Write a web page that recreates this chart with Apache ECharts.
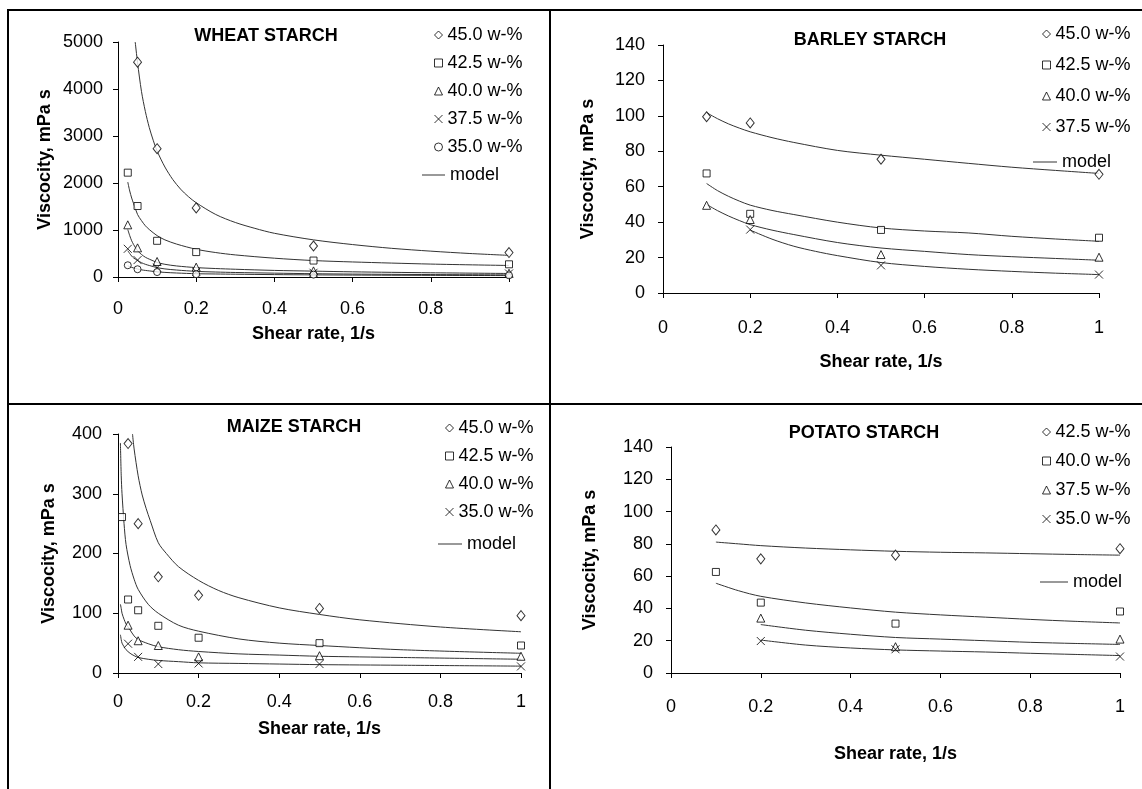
<!DOCTYPE html>
<html>
<head>
<meta charset="utf-8">
<script src="https://cdn.jsdelivr.net/npm/echarts@6/dist/echarts.min.js"></script>
<style>
html,body{margin:0;padding:0;background:#fff;}
#chart{width:1142px;height:789px;}
</style>
</head>
<body>
<div id="chart"></div>
<script>
// ---------------- DATA ----------------
// Wheat starch
const wheatX = [0.025, 0.05, 0.1, 0.2, 0.5, 1];
const wheat450 = [null, 4570, 2730, 1470, 660, 520];
const wheat425 = [2220, 1510, 770, 530, 350, 270];
const wheat400 = [1110, 620, 330, 210, 130, 80];
const wheat375 = [600, 360, 200, 110, 90, 75];
const wheat350 = [250, 165, 105, 60, 50, 35];
const wheatM45X = [0.044, 0.05, 0.06, 0.07, 0.08, 0.09, 0.1, 0.12, 0.14, 0.16, 0.18, 0.2, 0.25, 0.3, 0.35, 0.4, 0.5, 0.6, 0.7, 0.8, 0.9, 1];
const wheatM45 = [5000, 4560, 3950, 3520, 3180, 2910, 2680, 2340, 2075, 1870, 1710, 1580, 1330, 1160, 1035, 930, 790, 690, 610, 550, 500, 460];
const wheatMX = [0.025, 0.03, 0.035, 0.04, 0.05, 0.06, 0.07, 0.08, 0.1, 0.12, 0.15, 0.2, 0.25, 0.3, 0.4, 0.5, 0.6, 0.8, 1];
const wheatM425 = [2020, 1830, 1680, 1560, 1330, 1200, 1090, 1010, 880, 790, 700, 590, 520, 470, 400, 350, 320, 275, 245];
const wheatM40 = [1010, 880, 770, 690, 560, 480, 420, 380, 310, 270, 235, 200, 180, 165, 140, 125, 110, 90, 75];
const wheatM375 = [560, 500, 445, 405, 350, 305, 270, 245, 200, 172, 148, 120, 106, 96, 82, 70, 62, 52, 45];
const wheatM35 = [240, 220, 205, 192, 170, 152, 140, 130, 110, 98, 85, 70, 64, 59, 51, 45, 41, 35, 30];

// Barley starch
const barleyX = [0.1, 0.2, 0.5, 1];
const barley450 = [99.5, 96, 75.5, 67];
const barley425 = [67.5, 44.7, 35.6, 31.2];
const barley400 = [49.5, 41.5, 21.7, 20.2];
const barley375 = [null, 35.8, 15.6, 10.4];
const barleyMX = [0.1, 0.125, 0.15, 0.175, 0.2, 0.25, 0.3, 0.4, 0.5, 0.6, 0.7, 0.8, 0.9, 1];
const barleyM450 = [101.8, 98.4, 95.5, 93.1, 91, 87.7, 85, 80.5, 77.8, 75.5, 73.2, 71, 69.2, 67.5];
const barleyM425 = [61.8, 57.8, 54.6, 51.9, 49.6, 46.6, 44.3, 40, 36.7, 35, 33.9, 32, 30.5, 29.2];
const barleyM400 = [50, 46.5, 43.5, 40.9, 38.6, 35.5, 33, 28.5, 25.4, 23.5, 21.7, 20.5, 19.5, 18.5];
const barleyM375X = [0.2, 0.25, 0.3, 0.35, 0.4, 0.5, 0.6, 0.7, 0.8, 0.9, 1];
const barleyM375 = [35.5, 30.4, 26.4, 23.5, 21.1, 17.2, 15, 13.4, 12.2, 11.2, 10.4];

// Maize starch
const maizeX = [0.01, 0.025, 0.05, 0.1, 0.2, 0.5, 1];
const maize450 = [null, 384, 250, 161, 130, 108, 96];
const maize425 = [261, 123, 105, 79, 59, 50, 46];
const maize400 = [null, 80, 54, 46, 27, 29, 28];
const maize350 = [null, 49, 27, 15, 16, 15, 11];
const maizeM45X = [0.036, 0.04, 0.05, 0.06, 0.07, 0.08, 0.1, 0.12, 0.15, 0.2, 0.25, 0.3, 0.4, 0.5, 0.6, 0.8, 1];
const maizeM45 = [400, 375, 330, 298, 275, 255, 218, 200, 178, 155, 138, 126, 109, 98, 89, 77, 69];
const maizeMX = [0.006, 0.008, 0.01, 0.015, 0.02, 0.03, 0.04, 0.05, 0.075, 0.1, 0.15, 0.2, 0.3, 0.4, 0.5, 0.7, 1];
const maizeM425 = [385, 330, 300, 250, 215, 180, 157, 140, 115, 100, 80, 70, 57, 50, 46, 39, 33];
const maizeM40 = [115, 108, 100, 90, 82, 72, 62, 56, 49, 44, 39, 36, 32, 30, 28, 26, 23];
const maizeM35 = [64, 56, 50, 44, 39, 33, 29, 26, 23, 21, 19, 17, 16, 15, 14, 13, 11.5];

// Potato starch
const potatoX = [0.1, 0.2, 0.5, 1];
const potato425 = [88.6, 70.7, 73, 77];
const potato400 = [62.6, 43.6, 30.6, 38.1];
const potato375 = [null, 34, 16.3, 21];
const potato350 = [null, 19.8, 14.7, 10.2];
const potatoMX = [0.1, 0.15, 0.2, 0.3, 0.4, 0.5, 0.6, 0.7, 0.8, 0.9, 1];
const potatoM425 = [81.1, 80, 78.9, 77.4, 76.3, 75.4, 74.8, 74.4, 73.9, 73.4, 73];
const potatoM400 = [55.6, 51, 47.5, 43.4, 40.3, 37.7, 36, 34.6, 33.2, 32, 31];
const potatoM3X = [0.2, 0.3, 0.4, 0.5, 0.6, 0.7, 0.8, 0.9, 1];
const potatoM375 = [30, 26.5, 24, 22, 21, 20, 19, 18.3, 17.7];
const potatoM350 = [20.4, 17.3, 15.5, 14.3, 13.6, 13, 12.2, 11.5, 10.8];

const yTicksWheat = {min: 0, max: 5000, interval: 1000};
const yTicksBarley = {min: 0, max: 140, interval: 20};
const yTicksMaize = {min: 0, max: 400, interval: 100};
const yTicksPotato = {min: 0, max: 140, interval: 20};

const titles = ['WHEAT STARCH', 'BARLEY STARCH', 'MAIZE STARCH', 'POTATO STARCH'];
const xName = 'Shear rate, 1/s';
const yName = 'Viscocity, mPa s';

// ---------------- CHART ----------------
const FONT = 'Liberation Sans';
const SYM = {
  diamond: {symbol: 'diamond', size: [8, 10]},
  square: {symbol: 'rect', size: 7},
  triangle: {symbol: 'triangle', size: 8},
  cross: {symbol: 'path://M0,0L10,10M0,10L10,0', size: 8},
  circle: {symbol: 'circle', size: 7}
};

function pts(xs, ys) {
  const out = [];
  xs.forEach((x, i) => { if (ys[i] != null) out.push([x, ys[i]]); });
  return out;
}
function scatter(name, xs, ys, sym, gi) {
  return {
    name: name, type: 'scatter', xAxisIndex: gi, yAxisIndex: gi,
    symbol: SYM[sym].symbol, symbolSize: SYM[sym].size,
    itemStyle: {color: '#fff', borderColor: '#000', borderWidth: 1},
    data: pts(xs, ys), z: 3, silent: true
  };
}
function model(name, xs, ys, gi) {
  return {
    name: name, type: 'line', xAxisIndex: gi, yAxisIndex: gi,
    symbol: 'none', smooth: 0.3, clip: true,
    color: '#333',
    lineStyle: {color: '#333', width: 1},
    data: pts(xs, ys), z: 2, silent: true
  };
}

const grids = [
  {left: 118, top: 42, width: 391, height: 235},
  {left: 663, top: 45, width: 436, height: 248},
  {left: 118, top: 434, width: 403, height: 239},
  {left: 671, top: 447, width: 449, height: 226}
];
const yTicks = [yTicksWheat, yTicksBarley, yTicksMaize, yTicksPotato];
const xLabelMargin = [23, 26, 20, 25];
const yLabelMargin = [15, 18, 16, 18];
const xNameGap = [48, 60, 47, 72];
const yNameGap = [64, 66, 60, 72];

const txt = {color: '#000', fontFamily: FONT, fontSize: 18};

const xAxes = grids.map((g, i) => ({
  type: 'value', gridIndex: i, min: 0, max: 1, interval: 0.2,
  axisLine: {lineStyle: {color: '#000', width: 1}},
  axisTick: {show: true, length: 5, lineStyle: {color: '#000'}},
  splitLine: {show: false},
  axisLabel: Object.assign({margin: xLabelMargin[i]}, txt),
  name: xName, nameLocation: 'middle', nameGap: xNameGap[i],
  nameTextStyle: Object.assign({}, txt, {fontWeight: 'bold'})
}));
const yAxes = grids.map((g, i) => ({
  type: 'value', gridIndex: i, min: yTicks[i].min, max: yTicks[i].max, interval: yTicks[i].interval,
  axisLine: {show: true, lineStyle: {color: '#000', width: 1}},
  axisTick: {show: true, length: 5, lineStyle: {color: '#000'}},
  splitLine: {show: false},
  axisLabel: Object.assign({margin: yLabelMargin[i], formatter: v => String(v)}, txt),
  name: yName, nameLocation: 'middle', nameGap: yNameGap[i], nameRotate: 90,
  nameTextStyle: Object.assign({}, txt, {fontWeight: 'bold'})
}));

const series = [
  // wheat
  scatter('w|45.0 w-%', wheatX, wheat450, 'diamond', 0),
  scatter('w|42.5 w-%', wheatX, wheat425, 'square', 0),
  scatter('w|40.0 w-%', wheatX, wheat400, 'triangle', 0),
  scatter('w|37.5 w-%', wheatX, wheat375, 'cross', 0),
  scatter('w|35.0 w-%', wheatX, wheat350, 'circle', 0),
  model('w|model', wheatM45X, wheatM45, 0),
  model('w|model', wheatMX, wheatM425, 0),
  model('w|model', wheatMX, wheatM40, 0),
  model('w|model', wheatMX, wheatM375, 0),
  model('w|model', wheatMX, wheatM35, 0),
  // barley
  scatter('b|45.0 w-%', barleyX, barley450, 'diamond', 1),
  scatter('b|42.5 w-%', barleyX, barley425, 'square', 1),
  scatter('b|40.0 w-%', barleyX, barley400, 'triangle', 1),
  scatter('b|37.5 w-%', barleyX, barley375, 'cross', 1),
  model('b|model', barleyMX, barleyM450, 1),
  model('b|model', barleyMX, barleyM425, 1),
  model('b|model', barleyMX, barleyM400, 1),
  model('b|model', barleyM375X, barleyM375, 1),
  // maize
  scatter('m|45.0 w-%', maizeX, maize450, 'diamond', 2),
  scatter('m|42.5 w-%', maizeX, maize425, 'square', 2),
  scatter('m|40.0 w-%', maizeX, maize400, 'triangle', 2),
  scatter('m|35.0 w-%', maizeX, maize350, 'cross', 2),
  model('m|model', maizeM45X, maizeM45, 2),
  model('m|model', maizeMX, maizeM425, 2),
  model('m|model', maizeMX, maizeM40, 2),
  model('m|model', maizeMX, maizeM35, 2),
  // potato
  scatter('p|42.5 w-%', potatoX, potato425, 'diamond', 3),
  scatter('p|40.0 w-%', potatoX, potato400, 'square', 3),
  scatter('p|37.5 w-%', potatoX, potato375, 'triangle', 3),
  scatter('p|35.0 w-%', potatoX, potato350, 'cross', 3),
  model('p|model', potatoMX, potatoM425, 3),
  model('p|model', potatoMX, potatoM400, 3),
  model('p|model', potatoM3X, potatoM375, 3),
  model('p|model', potatoM3X, potatoM350, 3)
];

function markerLegend(names, left, top, gap) {
  return {
    orient: 'vertical', left: left, top: top, itemGap: gap,
    itemWidth: 8, itemHeight: 8, selectedMode: false,
    data: names,
    itemStyle: {borderWidth: 1},
    textStyle: Object.assign({lineHeight: 18}, txt),
    formatter: n => n.split('|')[1]
  };
}
function modelLegend(name, left, top, width) {
  return {
    orient: 'vertical', left: left, top: top,
    itemWidth: width, itemHeight: 1, selectedMode: false,
    data: [{name: name, icon: 'rect'}],
    itemStyle: {color: '#333', borderWidth: 0},
    lineStyle: {width: 0},
    textStyle: Object.assign({lineHeight: 18}, txt),
    formatter: n => n.split('|')[1]
  };
}
const legends = [
  markerLegend(['w|45.0 w-%', 'w|42.5 w-%', 'w|40.0 w-%', 'w|37.5 w-%', 'w|35.0 w-%'], 429, 21, 10),
  modelLegend('w|model', 417, 161, 23),
  markerLegend(['b|45.0 w-%', 'b|42.5 w-%', 'b|40.0 w-%', 'b|37.5 w-%'], 1037, 20, 13),
  modelLegend('b|model', 1028, 148, 24),
  markerLegend(['m|45.0 w-%', 'm|42.5 w-%', 'm|40.0 w-%', 'm|35.0 w-%'], 440, 414, 10),
  modelLegend('m|model', 433, 530, 24),
  markerLegend(['p|42.5 w-%', 'p|40.0 w-%', 'p|37.5 w-%', 'p|35.0 w-%'], 1037, 418, 11),
  modelLegend('p|model', 1035, 568, 28)
];

const titleCenters = [[266, 27], [870, 31], [294, 418], [864, 424]];
const titleOpts = titles.map((t, i) => ({
  text: t, left: titleCenters[i][0], top: titleCenters[i][1], textAlign: 'center',
  padding: 0,
  textStyle: {color: '#000', fontFamily: FONT, fontSize: 18, fontWeight: 'bold'}
}));

const frame = {color: '#000', lineWidth: 2};
const option = {
  animation: false,
  backgroundColor: '#fff',
  title: titleOpts,
  grid: grids,
  xAxis: xAxes,
  yAxis: yAxes,
  legend: legends,
  series: series,
  graphic: [
    {type: 'line', shape: {x1: 7, y1: 10, x2: 1142, y2: 10}, style: frame, silent: true},
    {type: 'line', shape: {x1: 8, y1: 9, x2: 8, y2: 789}, style: frame, silent: true},
    {type: 'line', shape: {x1: 550, y1: 9, x2: 550, y2: 789}, style: frame, silent: true},
    {type: 'line', shape: {x1: 7, y1: 404, x2: 1142, y2: 404}, style: frame, silent: true}
  ]
};
const chart = echarts.init(document.getElementById('chart'), null, {renderer: 'canvas'});
chart.setOption(option);
</script>
</body>
</html>
